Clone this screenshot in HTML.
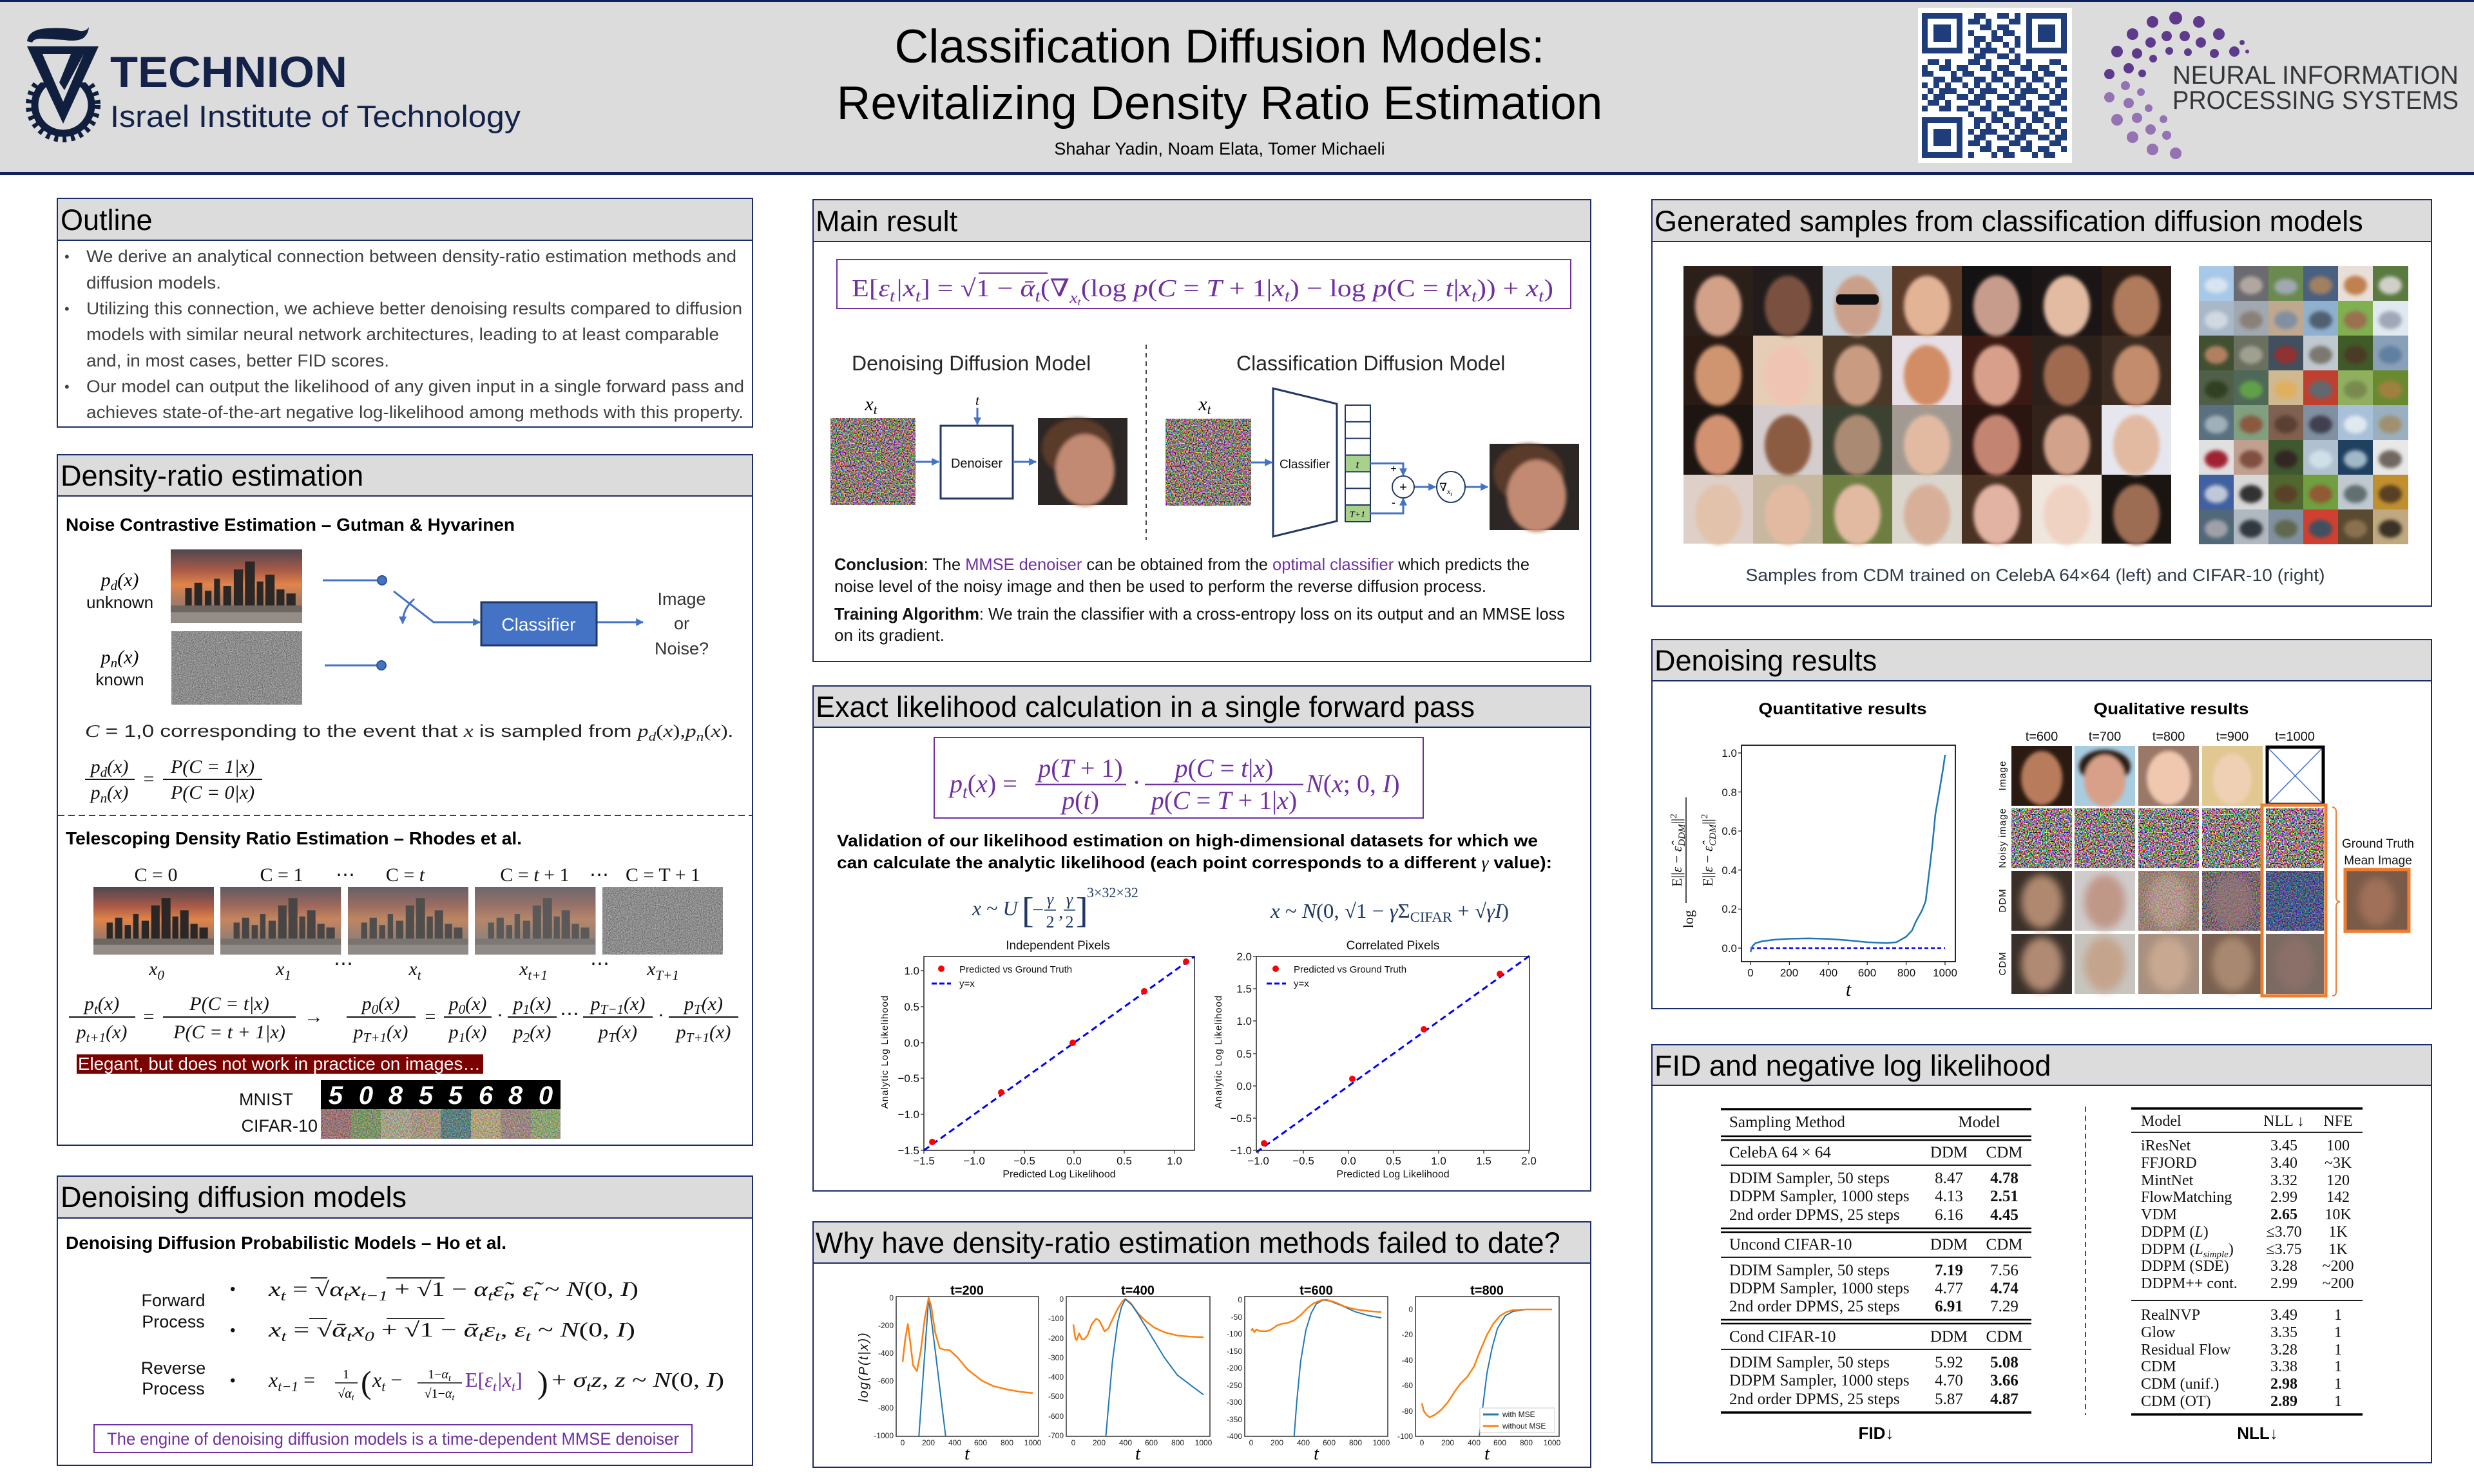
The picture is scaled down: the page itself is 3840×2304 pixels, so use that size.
<!DOCTYPE html>
<html><head><meta charset="utf-8"><style>
html,body{margin:0;padding:0;background:#fff}
body{width:3840px;height:2304px;overflow:hidden}
svg{display:block;font-family:"Liberation Sans",Arial,"DejaVu Sans",sans-serif}
.m{font-family:"Liberation Serif","DejaVu Serif",serif;font-style:italic}
.u{font-family:"Liberation Serif","DejaVu Serif",serif;font-style:normal}
.b{font-weight:bold}
</style></head><body>
<svg width="3840" height="2304" viewBox="0 0 3840 2304">
<defs>
<linearGradient id="sky" x1="0" y1="0" x2="0" y2="1">
<stop offset="0" stop-color="#4e4650"/><stop offset=".28" stop-color="#a85a48"/><stop offset=".48" stop-color="#e0844a"/><stop offset=".7" stop-color="#a87a62"/><stop offset="1" stop-color="#8a7a70"/>
</linearGradient>
<filter id="nz" x="0" y="0" width="100%" height="100%" color-interpolation-filters="sRGB"><feTurbulence type="fractalNoise" baseFrequency="0.5" numOctaves="1" seed="4"/><feComponentTransfer><feFuncR type="linear" slope="3.5" intercept="-1.2"/><feFuncG type="linear" slope="3.5" intercept="-1.25"/><feFuncB type="linear" slope="3.5" intercept="-1.25"/><feFuncA type="linear" slope="0" intercept="1"/></feComponentTransfer></filter>
<filter id="gz" x="0" y="0" width="100%" height="100%" color-interpolation-filters="sRGB"><feTurbulence type="fractalNoise" baseFrequency="0.7" numOctaves="1" seed="7"/><feColorMatrix type="saturate" values="0"/><feComponentTransfer><feFuncR type="linear" slope="0.9" intercept="0.1"/><feFuncG type="linear" slope="0.9" intercept="0.1"/><feFuncB type="linear" slope="0.9" intercept="0.1"/><feFuncA type="linear" slope="0" intercept="1"/></feComponentTransfer></filter>
<filter id="bl" x="-30%" y="-30%" width="160%" height="160%"><feGaussianBlur stdDeviation="3"/></filter>
<filter id="bl6" x="-30%" y="-30%" width="160%" height="160%"><feGaussianBlur stdDeviation="6"/></filter>
<marker id="ah" viewBox="0 0 10 10" refX="9" refY="5" markerWidth="4" markerHeight="4" orient="auto"><path d="M0 0L10 5L0 10z" fill="#4472c4"/></marker>
<pattern id="qr" patternUnits="userSpaceOnUse" x="2983" y="20" width="63" height="63"><path fill="#1f3d7a" d="M0 0h9v9h-9zM18 0h18v9h-18zM54 0h9v9h-9zM9 9h18v9h-18zM36 9h9v9h-9zM0 18h9v9h-9zM27 18h18v9h-18zM54 18h9v9h-9zM0 27h18v9h-18zM45 27h9v9h-9zM18 36h18v9h-18zM45 36h18v9h-18zM0 45h9v9h-9zM18 45h9v9h-9zM36 45h9v9h-9zM9 54h9v9h-9zM27 54h27v9h-27z"/></pattern>
<g id="city">
<rect width="200" height="110" fill="url(#sky)"/>
<g fill="#2b2726">
<rect x="22" y="58" width="10" height="40"/><rect x="36" y="50" width="12" height="50"/><rect x="52" y="62" width="10" height="40"/><rect x="66" y="44" width="9" height="56"/><rect x="80" y="55" width="12" height="45"/><rect x="96" y="30" width="14" height="70"/><rect x="113" y="18" width="15" height="82"/><rect x="131" y="48" width="10" height="52"/><rect x="144" y="38" width="14" height="62"/><rect x="161" y="60" width="12" height="40"/><rect x="176" y="66" width="14" height="34"/>
</g>
<rect y="84" width="200" height="26" fill="#6e6660"/>
<rect y="94" width="200" height="16" fill="#948c86"/>
</g>
<clipPath id="gearclip"><rect x="30" y="128" width="140" height="100"/></clipPath>
</defs>

<!-- HEADER -->
<rect x="0" y="0" width="3840" height="272" fill="#dcdcdc"/>
<rect x="0" y="0" width="3840" height="3" fill="#10225c"/>
<rect x="0" y="267" width="3840" height="5" fill="#10225c"/>
<g fill="#0f1f3d">
<path d="M42 64 Q44 46 72 44 Q104 42 124 48 Q134 49 138 42 Q137 54 128 60 Q116 65 100 62 L64 60 Q52 60 50 66 Z"/>
<path d="M42 72 L153 72 L98 192 Z M66 84 L130 84 L98 158 Z" fill-rule="evenodd"/>
<path d="M110 84 L130 84 L100 140 L92 128 Z"/>
<g clip-path="url(#gearclip)">
<circle cx="98" cy="163" r="44" fill="none" stroke="#0f1f3d" stroke-width="11"/>
<circle cx="98" cy="163" r="53" fill="none" stroke="#0f1f3d" stroke-width="10" stroke-dasharray="6 7"/>
</g>
</g>
<text x="171" y="135" font-size="68" font-weight="bold" fill="#14224a" textLength="368" lengthAdjust="spacingAndGlyphs">TECHNION</text>
<text x="171" y="197" font-size="47" fill="#14224a" textLength="637" lengthAdjust="spacingAndGlyphs">Israel Institute of Technology</text>
<text x="1893" y="97" font-size="73" text-anchor="middle" fill="#000">Classification Diffusion Models:</text>
<text x="1893" y="185" font-size="73" text-anchor="middle" fill="#000">Revitalizing Density Ratio Estimation</text>
<text x="1893" y="240" font-size="27" text-anchor="middle" fill="#000">Shahar Yadin, Noam Elata, Tomer Michaeli</text>
<!-- QR -->
<rect x="2977" y="12" width="239" height="241" fill="#fff"/>
<rect x="2983" y="20" width="225" height="225" fill="url(#qr)"/>
<g fill="#fff"><rect x="2983" y="20" width="72" height="72"/><rect x="3136" y="20" width="72" height="72"/><rect x="2983" y="173" width="72" height="72"/></g>
<g fill="#1f3d7a"><rect x="2983" y="20" width="63" height="63"/><rect x="3145" y="20" width="63" height="63"/><rect x="2983" y="182" width="63" height="63"/></g>
<g fill="#fff"><rect x="2992" y="29" width="45" height="45"/><rect x="3154" y="29" width="45" height="45"/><rect x="2992" y="191" width="45" height="45"/></g>
<g fill="#1f3d7a"><rect x="3001" y="38" width="27" height="27"/><rect x="3163" y="38" width="27" height="27"/><rect x="3001" y="200" width="27" height="27"/></g>
<!-- NeurIPS -->
<g fill="#5e3a8c">
<circle cx="3468" cy="80" r="8"/><circle cx="3444" cy="53" r="9"/><circle cx="3413" cy="34" r="9"/><circle cx="3377" cy="28" r="10"/><circle cx="3341" cy="34" r="9"/><circle cx="3310" cy="53" r="9"/><circle cx="3286" cy="80" r="9"/><circle cx="3274" cy="115" r="8"/>
<circle cx="3437" cy="83" r="7"/><circle cx="3416" cy="66" r="8"/><circle cx="3391" cy="56" r="8"/><circle cx="3363" cy="56" r="8"/><circle cx="3338" cy="66" r="8"/><circle cx="3317" cy="83" r="8"/><circle cx="3304" cy="106" r="8"/>
<circle cx="3396" cy="81" r="6"/><circle cx="3367" cy="79" r="6"/><circle cx="3342" cy="91" r="6"/><circle cx="3325" cy="114" r="6"/>
<circle cx="3488" cy="80" r="3"/><circle cx="3480" cy="66" r="4"/>
</g>
<g fill="#9572b3">
<circle cx="3274" cy="151" r="8"/><circle cx="3286" cy="186" r="9"/><circle cx="3310" cy="213" r="9"/><circle cx="3341" cy="232" r="9"/><circle cx="3377" cy="238" r="9"/>
<circle cx="3299" cy="133" r="7"/><circle cx="3304" cy="160" r="8"/><circle cx="3317" cy="183" r="8"/><circle cx="3338" cy="201" r="8"/><circle cx="3363" cy="210" r="7"/>
<circle cx="3323" cy="143" r="6"/><circle cx="3335" cy="168" r="6"/><circle cx="3358" cy="185" r="6"/>
</g>
<text x="3372" y="130" font-size="40" fill="#33363b" textLength="444" lengthAdjust="spacingAndGlyphs">NEURAL INFORMATION</text>
<text x="3372" y="169" font-size="40" fill="#33363b" textLength="444" lengthAdjust="spacingAndGlyphs">PROCESSING SYSTEMS</text>

<!-- SECTION BOXES -->
<g fill="#fff" stroke="#1c2c6a" stroke-width="2">
<rect x="89" y="308" width="1079" height="355"/>
<rect x="89" y="706" width="1079" height="1072"/>
<rect x="89" y="1826" width="1079" height="449"/>
<rect x="1262" y="310" width="1207" height="717"/>
<rect x="1262" y="1065" width="1207" height="784"/>
<rect x="1262" y="1897" width="1207" height="381"/>
<rect x="2564" y="310" width="1210" height="631"/>
<rect x="2564" y="993" width="1210" height="573"/>
<rect x="2564" y="1622" width="1210" height="649"/>
</g>
<g fill="#dcdcdc" stroke="#1c2c6a" stroke-width="2">
<rect x="89" y="308" width="1079" height="65"/>
<rect x="89" y="706" width="1079" height="64"/>
<rect x="89" y="1826" width="1079" height="65"/>
<rect x="1262" y="310" width="1207" height="65"/>
<rect x="1262" y="1065" width="1207" height="64"/>
<rect x="1262" y="1897" width="1207" height="64"/>
<rect x="2564" y="310" width="1210" height="65"/>
<rect x="2564" y="993" width="1210" height="64"/>
<rect x="2564" y="1622" width="1210" height="63"/>
</g>
<g font-size="45" fill="#000">
<text x="94" y="357">Outline</text>
<text x="94" y="754">Density-ratio estimation</text>
<text x="94" y="1874">Denoising diffusion models</text>
<text x="1266" y="359">Main result</text>
<text x="1266" y="1113">Exact likelihood calculation in a single forward pass</text>
<text x="1266" y="1945">Why have density-ratio estimation methods failed to date?</text>
<text x="2568" y="359">Generated samples from classification diffusion models</text>
<text x="2568" y="1041">Denoising results</text>
<text x="2568" y="1670">FID and negative log likelihood</text>
</g>

<!-- OUTLINE -->
<g font-size="27" fill="#404040">
<text x="100" y="406" font-size="22">•</text><text x="100" y="487" font-size="22">•</text><text x="100" y="608" font-size="22">•</text>
<text x="134" y="407" textLength="1009" lengthAdjust="spacingAndGlyphs">We derive an analytical connection between density-ratio estimation methods and</text>
<text x="134" y="448" textLength="209" lengthAdjust="spacingAndGlyphs">diffusion models.</text>
<text x="134" y="488" textLength="1018" lengthAdjust="spacingAndGlyphs">Utilizing this connection, we achieve better denoising results compared to diffusion</text>
<text x="134" y="528" textLength="982" lengthAdjust="spacingAndGlyphs">models with similar neural network architectures, leading to at least comparable</text>
<text x="134" y="569" textLength="470" lengthAdjust="spacingAndGlyphs">and, in most cases, better FID scores.</text>
<text x="134" y="609" textLength="1021" lengthAdjust="spacingAndGlyphs">Our model can output the likelihood of any given input in a single forward pass and</text>
<text x="134" y="649" textLength="1020" lengthAdjust="spacingAndGlyphs">achieves state-of-the-art negative log-likelihood among methods with this property.</text>
</g>

<!-- DENSITY RATIO -->
<text x="102" y="824" font-size="28" font-weight="bold" fill="#000" textLength="697" lengthAdjust="spacingAndGlyphs">Noise Contrastive Estimation – Gutman &amp; Hyvarinen</text>
<use href="#city" transform="translate(265,853) scale(1.02,1.036)"/>
<rect x="266" y="980" width="203" height="114" filter="url(#gz)"/>
<text class="m" x="186" y="910" font-size="30" text-anchor="middle">p<tspan dy="6" font-size="21">d</tspan><tspan dy="-6">(x)</tspan></text>
<text x="186" y="944" font-size="26" text-anchor="middle" fill="#111">unknown</text>
<text class="m" x="186" y="1030" font-size="30" text-anchor="middle">p<tspan dy="6" font-size="21">n</tspan><tspan dy="-6">(x)</tspan></text>
<text x="186" y="1064" font-size="26" text-anchor="middle" fill="#111">known</text>
<g stroke="#4472c4" stroke-width="3" fill="none">
<line x1="501" y1="901" x2="588" y2="901"/><line x1="504" y1="1033" x2="587" y2="1033"/>
<polyline points="611,918 673,966 745,966" marker-end="url(#ah)"/>
<path d="M643 930 Q625 945 625 968" marker-end="url(#ah)"/>
<line x1="926" y1="966" x2="998" y2="966" marker-end="url(#ah)"/>
</g>
<circle cx="593" cy="901" r="7" fill="#4472c4" stroke="#2f528f" stroke-width="2"/>
<circle cx="592" cy="1033" r="7" fill="#4472c4" stroke="#2f528f" stroke-width="2"/>
<rect x="747" y="935" width="179" height="67" fill="#4472c4" stroke="#203864" stroke-width="3"/>
<text x="836" y="979" font-size="28" text-anchor="middle" fill="#fff">Classifier</text>
<g font-size="27" fill="#333" text-anchor="middle"><text x="1058" y="939">Image</text><text x="1058" y="977">or</text><text x="1058" y="1016">Noise?</text></g>
<text x="132" y="1144" font-size="27" fill="#222" textLength="1006" lengthAdjust="spacingAndGlyphs"><tspan class="m">C</tspan> = 1,0 corresponding to the event that <tspan class="m">x</tspan> is sampled from <tspan class="m">p</tspan><tspan class="m" dy="6" font-size="19">d</tspan><tspan class="u" dy="-6">(</tspan><tspan class="m">x</tspan><tspan class="u">),</tspan><tspan class="m">p</tspan><tspan class="m" dy="6" font-size="19">n</tspan><tspan class="u" dy="-6">(</tspan><tspan class="m">x</tspan><tspan class="u">).</tspan></text>
<g class="m" font-size="30" text-anchor="middle" fill="#111">
<text x="170" y="1200">p<tspan dy="6" font-size="21">d</tspan><tspan dy="-6">(x)</tspan></text>
<text x="170" y="1240">p<tspan dy="6" font-size="21">n</tspan><tspan dy="-6">(x)</tspan></text>
<text x="330" y="1200">P(C = 1|x)</text>
<text x="330" y="1240">P(C = 0|x)</text>
<text class="u" x="231" y="1219">=</text>
</g>
<g stroke="#111" stroke-width="2"><line x1="132" y1="1210" x2="209" y2="1210"/><line x1="253" y1="1210" x2="407" y2="1210"/></g>
<line x1="90" y1="1266" x2="1167" y2="1266" stroke="#1f3f8f" stroke-width="2" stroke-dasharray="10 6"/>
<text x="102" y="1311" font-size="28" font-weight="bold" fill="#000" textLength="708" lengthAdjust="spacingAndGlyphs">Telescoping Density Ratio Estimation – Rhodes et al.</text>
<g class="u" font-size="30" text-anchor="middle" fill="#111">
<text x="242" y="1368">C = 0</text><text x="437" y="1368">C = 1</text><text x="536" y="1368">⋯</text>
<text x="629" y="1368">C = <tspan class="m">t</tspan></text><text x="830" y="1368">C = <tspan class="m">t</tspan> + 1</text><text x="930" y="1368">⋯</text><text x="1029" y="1368">C = T + 1</text>
</g>
<use href="#city" transform="translate(145,1377) scale(0.935,0.955)"/>
<use href="#city" transform="translate(342,1377) scale(0.935,0.955)"/>
<use href="#city" transform="translate(540,1377) scale(0.935,0.955)"/>
<use href="#city" transform="translate(737,1377) scale(0.935,0.955)"/>
<rect x="342" y="1377" width="188" height="105" fill="#8a8a8a" opacity=".3"/>
<rect x="540" y="1377" width="187" height="105" fill="#8a8a8a" opacity=".4"/>
<rect x="737" y="1377" width="188" height="105" fill="#8a8a8a" opacity=".5"/>
<rect x="935" y="1377" width="187" height="105" filter="url(#gz)"/>
<g class="m" font-size="30" text-anchor="middle" fill="#111">
<text x="243" y="1514">x<tspan dy="7" font-size="21">0</tspan></text>
<text x="440" y="1514">x<tspan dy="7" font-size="21">1</tspan></text>
<text class="u" x="533" y="1506">⋯</text>
<text x="644" y="1514">x<tspan dy="7" font-size="21">t</tspan></text>
<text x="828" y="1514">x<tspan dy="7" font-size="21">t+1</tspan></text>
<text class="u" x="931" y="1506">⋯</text>
<text x="1029" y="1514">x<tspan dy="7" font-size="21">T+1</tspan></text>
</g>
<g class="m" font-size="30" text-anchor="middle" fill="#111">
<text x="158" y="1568">p<tspan dy="6" font-size="21">t</tspan><tspan dy="-6">(x)</tspan></text>
<text x="158" y="1612">p<tspan dy="6" font-size="21">t+1</tspan><tspan dy="-6">(x)</tspan></text>
<text class="u" x="231" y="1588">=</text>
<text x="356" y="1568">P(C = t|x)</text>
<text x="356" y="1612">P(C = t + 1|x)</text>
<text class="u" x="487" y="1588">→</text>
<text x="591" y="1568">p<tspan dy="6" font-size="21">0</tspan><tspan dy="-6">(x)</tspan></text>
<text x="591" y="1612">p<tspan dy="6" font-size="21">T+1</tspan><tspan dy="-6">(x)</tspan></text>
<text class="u" x="668" y="1588">=</text>
<text x="726" y="1568">p<tspan dy="6" font-size="21">0</tspan><tspan dy="-6">(x)</tspan></text>
<text x="726" y="1612">p<tspan dy="6" font-size="21">1</tspan><tspan dy="-6">(x)</tspan></text>
<text class="u" x="776" y="1586">·</text>
<text x="826" y="1568">p<tspan dy="6" font-size="21">1</tspan><tspan dy="-6">(x)</tspan></text>
<text x="826" y="1612">p<tspan dy="6" font-size="21">2</tspan><tspan dy="-6">(x)</tspan></text>
<text class="u" x="884" y="1584">⋯</text>
<text x="959" y="1568">p<tspan dy="6" font-size="21">T−1</tspan><tspan dy="-6">(x)</tspan></text>
<text x="959" y="1612">p<tspan dy="6" font-size="21">T</tspan><tspan dy="-6">(x)</tspan></text>
<text class="u" x="1026" y="1586">·</text>
<text x="1092" y="1568">p<tspan dy="6" font-size="21">T</tspan><tspan dy="-6">(x)</tspan></text>
<text x="1092" y="1612">p<tspan dy="6" font-size="21">T+1</tspan><tspan dy="-6">(x)</tspan></text>
</g>
<g stroke="#111" stroke-width="2">
<line x1="107" y1="1579" x2="210" y2="1579"/><line x1="253" y1="1579" x2="459" y2="1579"/><line x1="538" y1="1579" x2="645" y2="1579"/><line x1="689" y1="1579" x2="763" y2="1579"/><line x1="788" y1="1579" x2="864" y2="1579"/><line x1="905" y1="1579" x2="1013" y2="1579"/><line x1="1038" y1="1579" x2="1146" y2="1579"/>
</g>
<rect x="119" y="1637" width="631" height="30" fill="#7b0000"/>
<text x="121" y="1661" font-size="28" fill="#fff" textLength="625" lengthAdjust="spacingAndGlyphs">Elegant, but does not work in practice on images…</text>
<text x="455" y="1716" font-size="27" text-anchor="end" fill="#111">MNIST</text>
<text x="493" y="1757" font-size="27" text-anchor="end" fill="#111">CIFAR-10</text>
<rect x="498" y="1677" width="372" height="45" fill="#000"/>
<g font-size="40" font-weight="bold" font-style="italic" fill="#fff" text-anchor="middle">
<text x="521" y="1714">5</text><text x="568" y="1714">0</text><text x="614" y="1714">8</text><text x="661" y="1714">5</text><text x="707" y="1714">5</text><text x="754" y="1714">6</text><text x="800" y="1714">8</text><text x="847" y="1714">0</text>
</g>
<g>
<rect x="498" y="1722" width="47" height="46" fill="#a07070"/><rect x="545" y="1722" width="46" height="46" fill="#7a9a60"/><rect x="591" y="1722" width="47" height="46" fill="#b0b090"/><rect x="638" y="1722" width="46" height="46" fill="#b0a080"/><rect x="684" y="1722" width="47" height="46" fill="#4a8080"/><rect x="731" y="1722" width="46" height="46" fill="#c0b080"/><rect x="777" y="1722" width="47" height="46" fill="#a08a80"/><rect x="824" y="1722" width="46" height="46" fill="#90b070"/>
<rect x="498" y="1722" width="372" height="46" filter="url(#nz)" opacity=".3"/>
</g>

<!-- DDPM -->
<text x="102" y="1939" font-size="28" font-weight="bold" fill="#000" textLength="684" lengthAdjust="spacingAndGlyphs">Denoising Diffusion Probabilistic Models – Ho et al.</text>
<g font-size="27" text-anchor="middle" fill="#111"><text x="269" y="2028">Forward</text><text x="269" y="2061">Process</text><text x="269" y="2133">Reverse</text><text x="269" y="2165">Process</text></g>
<g font-size="24" fill="#111"><text x="357" y="2009">•</text><text x="357" y="2073">•</text><text x="357" y="2151">•</text></g>
<text class="m" x="417" y="2012" font-size="32" fill="#111" textLength="574" lengthAdjust="spacingAndGlyphs">x<tspan dy="7" font-size="22">t</tspan><tspan dy="-7" class="u"> = √</tspan>α<tspan dy="7" font-size="22">t</tspan><tspan dy="-7">x</tspan><tspan dy="7" font-size="22">t−1</tspan><tspan dy="-7" class="u"> + √1 − </tspan>α<tspan dy="7" font-size="22">t</tspan><tspan dy="-7">ε̃</tspan><tspan dy="7" font-size="22">t</tspan><tspan dy="-7" class="u">,     </tspan>ε̃<tspan dy="7" font-size="22">t</tspan><tspan dy="-7" class="u"> ~ </tspan>N<tspan class="u">(0, </tspan>I<tspan class="u">)</tspan></text>
<text class="m" x="417" y="2075" font-size="32" fill="#111" textLength="569" lengthAdjust="spacingAndGlyphs">x<tspan dy="7" font-size="22">t</tspan><tspan dy="-7" class="u"> = √</tspan>ᾱ<tspan dy="7" font-size="22">t</tspan><tspan dy="-7">x</tspan><tspan dy="7" font-size="22">0</tspan><tspan dy="-7" class="u">     + √1 − </tspan>ᾱ<tspan dy="7" font-size="22">t</tspan><tspan dy="-7">ε</tspan><tspan dy="7" font-size="22">t</tspan><tspan dy="-7" class="u">,     </tspan>ε<tspan dy="7" font-size="22">t</tspan><tspan dy="-7" class="u"> ~ </tspan>N<tspan class="u">(0, </tspan>I<tspan class="u">)</tspan></text>
<g stroke="#111" stroke-width="1.8"><line x1="482" y1="1984" x2="508" y2="1984"/><line x1="600" y1="1984" x2="690" y2="1984"/><line x1="480" y1="2047" x2="508" y2="2047"/><line x1="600" y1="2047" x2="690" y2="2047"/></g>
<text class="m" x="417" y="2153" font-size="32" fill="#111">x<tspan dy="7" font-size="22">t−1</tspan><tspan dy="-7" class="u"> =</tspan></text>
<text class="u" x="537" y="2140" font-size="20" text-anchor="middle">1</text>
<line x1="520" y1="2147" x2="555" y2="2147" stroke="#111" stroke-width="1.5"/>
<text class="m" x="537" y="2170" font-size="20" text-anchor="middle"><tspan class="u">√</tspan>α<tspan dy="4" font-size="14">t</tspan></text>
<text class="u" x="560" y="2163" font-size="50" fill="#111">(</text>
<text class="m" x="578" y="2153" font-size="32" fill="#111">x<tspan dy="7" font-size="22">t</tspan><tspan dy="-7" class="u"> −</tspan></text>
<text class="m" x="682" y="2140" font-size="20" text-anchor="middle"><tspan class="u">1−</tspan>α<tspan dy="4" font-size="14">t</tspan></text>
<line x1="648" y1="2147" x2="717" y2="2147" stroke="#111" stroke-width="1.5"/>
<text class="m" x="682" y="2170" font-size="20" text-anchor="middle"><tspan class="u">√1−</tspan>α<tspan dy="4" font-size="14">t</tspan></text>
<text class="m" x="722" y="2153" font-size="32" fill="#7030a0"><tspan class="u">E[</tspan>ε<tspan dy="7" font-size="22">t</tspan><tspan dy="-7">|x</tspan><tspan dy="7" font-size="22">t</tspan><tspan dy="-7" class="u">]</tspan></text>
<text class="u" x="834" y="2163" font-size="50" fill="#111">)</text>
<text class="m" x="856" y="2153" font-size="32" fill="#111" textLength="268" lengthAdjust="spacingAndGlyphs"><tspan class="u">+ </tspan>σ<tspan dy="7" font-size="22">t</tspan><tspan dy="-7">z</tspan><tspan class="u">,   </tspan>z<tspan class="u"> ~ </tspan>N<tspan class="u">(0, </tspan>I<tspan class="u">)</tspan></text>
<rect x="146" y="2212" width="928" height="43" fill="none" stroke="#7030a0" stroke-width="2"/>
<text x="166" y="2243" font-size="27" fill="#7030a0" textLength="888" lengthAdjust="spacingAndGlyphs">The engine of denoising diffusion models is a time-dependent MMSE denoiser</text>

<!-- MAIN RESULT -->
<rect x="1299" y="403" width="1139" height="76" fill="none" stroke="#7030a0" stroke-width="2"/>
<text class="m" x="1322" y="460" font-size="38" fill="#7030a0" textLength="1089" lengthAdjust="spacingAndGlyphs"><tspan class="u">E[</tspan>ε<tspan dy="8" font-size="26">t</tspan><tspan dy="-8">|x</tspan><tspan dy="8" font-size="26">t</tspan><tspan dy="-8" class="u">] = √1 − </tspan>ᾱ<tspan dy="8" font-size="26">t</tspan><tspan dy="-8" class="u">(∇</tspan><tspan dy="10" font-size="24">x</tspan><tspan dy="4" font-size="16">t</tspan><tspan dy="-14" class="u">(log </tspan>p<tspan class="u">(</tspan>C<tspan class="u"> = </tspan>T<tspan class="u"> + 1|</tspan>x<tspan dy="8" font-size="26">t</tspan><tspan dy="-8" class="u">) − log </tspan>p<tspan class="u">(C = </tspan>t<tspan class="u">|</tspan>x<tspan dy="8" font-size="26">t</tspan><tspan dy="-8" class="u">)) + </tspan>x<tspan dy="8" font-size="26">t</tspan><tspan dy="-8" class="u">)</tspan></text>
<line x1="1519" y1="424" x2="1626" y2="424" stroke="#7030a0" stroke-width="2"/>
<text x="1322" y="575" font-size="32" fill="#262626">Denoising Diffusion Model</text>
<text x="1919" y="575" font-size="32" fill="#262626">Classification Diffusion Model</text>
<line x1="1779" y1="535" x2="1779" y2="838" stroke="#444" stroke-width="2" stroke-dasharray="7 6"/>
<text class="m" x="1352" y="637" font-size="30" text-anchor="middle">x<tspan dy="6" font-size="21">t</tspan></text>
<text class="m" x="1870" y="637" font-size="30" text-anchor="middle">x<tspan dy="6" font-size="21">t</tspan></text>
<text class="m" x="1517" y="629" font-size="22" text-anchor="middle">t</text>
<rect x="1289" y="649" width="132" height="135" filter="url(#nz)"/>
<rect x="1289" y="649" width="132" height="135" fill="#8a6a50" opacity=".2"/>
<rect x="1809" y="650" width="133" height="135" filter="url(#nz)"/>
<rect x="1809" y="650" width="133" height="135" fill="#8a6a50" opacity=".2"/>
<rect x="1460" y="661" width="112" height="113" fill="#fff" stroke="#203864" stroke-width="3"/>
<text x="1516" y="726" font-size="20" text-anchor="middle" fill="#111">Denoiser</text>
<rect x="1611" y="649" width="139" height="135" fill="#2c2624"/>
<g filter="url(#bl)"><ellipse cx="1672" cy="695" rx="55" ry="46" fill="#5a3a2a"/><ellipse cx="1684" cy="730" rx="46" ry="56" fill="#c28a72"/></g>
<rect x="2312" y="689" width="139" height="134" fill="#2c2624"/>
<g filter="url(#bl)"><ellipse cx="2373" cy="735" rx="55" ry="46" fill="#5a3a2a"/><ellipse cx="2385" cy="770" rx="46" ry="56" fill="#c28a72"/></g>
<polygon points="1976,603 2075,627 2075,809 1976,833" fill="#fff" stroke="#203864" stroke-width="3"/>
<text x="2025" y="727" font-size="19" text-anchor="middle" fill="#111">Classifier</text>
<g stroke="#203864" stroke-width="2">
<rect x="2088" y="629" width="39" height="25.9" fill="#fff"/><rect x="2088" y="654.9" width="39" height="25.9" fill="#fff"/><rect x="2088" y="680.7" width="39" height="25.9" fill="#fff"/><rect x="2088" y="706.6" width="39" height="25.9" fill="#a9d18e"/><rect x="2088" y="732.4" width="39" height="25.9" fill="#fff"/><rect x="2088" y="758.3" width="39" height="25.9" fill="#fff"/><rect x="2088" y="784.1" width="39" height="25.9" fill="#a9d18e"/>
</g>
<text class="m" x="2107" y="727" font-size="18" text-anchor="middle">t</text>
<text class="m" x="2107" y="803" font-size="14" text-anchor="middle">T+1</text>
<g stroke="#4472c4" stroke-width="3" fill="none">
<line x1="1421" y1="717" x2="1457" y2="717" marker-end="url(#ah)"/>
<line x1="1572" y1="717" x2="1608" y2="717" marker-end="url(#ah)"/>
<line x1="1517" y1="633" x2="1517" y2="659" marker-end="url(#ah)"/>
<line x1="1942" y1="718" x2="1974" y2="718" marker-end="url(#ah)"/>
<polyline points="2127,719.5 2178,719.5 2178,738" marker-end="url(#ah)"/>
<polyline points="2127,797 2178,797 2178,774" marker-end="url(#ah)"/>
<line x1="2195" y1="756" x2="2228" y2="756" marker-end="url(#ah)"/>
<line x1="2275" y1="756" x2="2309" y2="756" marker-end="url(#ah)"/>
</g>
<circle cx="2178" cy="756" r="17" fill="#fff" stroke="#203864" stroke-width="2"/>
<text x="2178" y="763" font-size="20" text-anchor="middle">+</text>
<text x="2163" y="733" font-size="16" text-anchor="middle">+</text>
<text x="2163" y="786" font-size="18" text-anchor="middle">-</text>
<ellipse cx="2252" cy="756" rx="22" ry="24" fill="#fff" stroke="#203864" stroke-width="2"/>
<text x="2244" y="762" font-size="17" text-anchor="middle" class="u">∇<tspan class="m" dy="5" font-size="12">x</tspan><tspan class="m" dy="3" font-size="9">t</tspan></text>
<g font-size="26" fill="#111">
<text x="1295" y="885" textLength="1079" lengthAdjust="spacingAndGlyphs"><tspan font-weight="bold">Conclusion</tspan>: The <tspan fill="#7030a0">MMSE denoiser</tspan> can be obtained from the <tspan fill="#7030a0">optimal classifier</tspan> which predicts the</text>
<text x="1295" y="919" textLength="1012" lengthAdjust="spacingAndGlyphs">noise level of the noisy image and then be used to perform the reverse diffusion process.</text>
<text x="1295" y="962" textLength="1134" lengthAdjust="spacingAndGlyphs"><tspan font-weight="bold">Training Algorithm</tspan>: We train the classifier with a cross-entropy loss on its output and an MMSE loss</text>
<text x="1295" y="995" textLength="171" lengthAdjust="spacingAndGlyphs">on its gradient.</text>
</g>

<!-- EXACT LIKELIHOOD -->
<rect x="1450" y="1145" width="759" height="125" fill="none" stroke="#7030a0" stroke-width="2"/>
<g class="m" font-size="40" fill="#7030a0">
<text x="1474" y="1230">p<tspan dy="9" font-size="28">t</tspan><tspan dy="-9" class="u">(</tspan>x<tspan class="u">) =</tspan></text>
<text x="1677" y="1206" text-anchor="middle">p<tspan class="u">(</tspan>T<tspan class="u"> + 1)</tspan></text>
<text x="1677" y="1256" text-anchor="middle">p<tspan class="u">(</tspan>t<tspan class="u">)</tspan></text>
<text class="u" x="1764" y="1228" text-anchor="middle">·</text>
<text x="1900" y="1206" text-anchor="middle">p<tspan class="u">(</tspan>C<tspan class="u"> = </tspan>t<tspan class="u">|</tspan>x<tspan class="u">)</tspan></text>
<text x="1900" y="1256" text-anchor="middle">p<tspan class="u">(</tspan>C<tspan class="u"> = </tspan>T<tspan class="u"> + 1|</tspan>x<tspan class="u">)</tspan></text>
<text x="2027" y="1230">N<tspan class="u">(</tspan>x<tspan class="u">; 0, </tspan>I<tspan class="u">)</tspan></text>
</g>
<g stroke="#7030a0" stroke-width="2.5"><line x1="1607" y1="1218" x2="1748" y2="1218"/><line x1="1777" y1="1218" x2="2023" y2="1218"/></g>
<g font-size="26" font-weight="bold" fill="#000">
<text x="1299" y="1314" textLength="1088" lengthAdjust="spacingAndGlyphs">Validation of our likelihood estimation on high-dimensional datasets for which we</text>
<text x="1299" y="1348" textLength="1110" lengthAdjust="spacingAndGlyphs">can calculate the analytic likelihood (each point corresponds to a different <tspan class="m" font-weight="normal">γ</tspan> value):</text>
</g>
<g class="m" fill="#1f3864">
<text x="1509" y="1421" font-size="32">x<tspan class="u"> ~ </tspan>U</text>
<text class="u" x="1586" y="1432" font-size="56">[</text>
<text class="u" x="1602" y="1423" font-size="32">−</text>
<text x="1630" y="1405" font-size="26" text-anchor="middle">γ</text><text class="u" x="1630" y="1440" font-size="26" text-anchor="middle">2</text>
<text class="u" x="1643" y="1425" font-size="30">,</text>
<text x="1660" y="1405" font-size="26" text-anchor="middle">γ</text><text class="u" x="1660" y="1440" font-size="26" text-anchor="middle">2</text>
<text class="u" x="1670" y="1432" font-size="56">]</text>
<text class="u" x="1687" y="1393" font-size="22">3×32×32</text>
<text x="1972" y="1425" font-size="32" textLength="370" lengthAdjust="spacingAndGlyphs">x<tspan class="u"> ~ </tspan>N<tspan class="u">(0, √1 − </tspan>γ<tspan class="u">Σ</tspan><tspan class="u" dy="6" font-size="22">CIFAR</tspan><tspan class="u" dy="-6"> + √</tspan>γ<tspan>I</tspan><tspan class="u">)</tspan></text>
</g>
<g stroke="#1f3864" stroke-width="1.5"><line x1="1621" y1="1413" x2="1639" y2="1413"/><line x1="1651" y1="1413" x2="1669" y2="1413"/></g>
<g font-size="19" text-anchor="middle" fill="#111"><text x="1642" y="1474">Independent Pixels</text><text x="2162" y="1474">Correlated Pixels</text></g>
<!-- left plot -->
<rect x="1434" y="1485" width="420" height="301" fill="none" stroke="#222" stroke-width="1.5"/>
<line x1="1434" y1="1786" x2="1854" y2="1485" stroke="#0000ff" stroke-width="3" stroke-dasharray="10 6"/>
<g fill="#ff0000"><circle cx="1447" cy="1773" r="5"/><circle cx="1554" cy="1696" r="5"/><circle cx="1665" cy="1619" r="5"/><circle cx="1776" cy="1539" r="5"/><circle cx="1841" cy="1493" r="5"/></g>
<circle cx="1461" cy="1504" r="5" fill="#ff0000"/>
<line x1="1446" y1="1527" x2="1476" y2="1527" stroke="#0000ff" stroke-width="3" stroke-dasharray="8 4"/>
<g font-size="15" fill="#111"><text x="1489" y="1510">Predicted vs Ground Truth</text><text x="1489" y="1532">y=x</text></g>
<g stroke="#222" stroke-width="1.2">
<line x1="1434" y1="1786" x2="1434" y2="1791"/><line x1="1512" y1="1786" x2="1512" y2="1791"/><line x1="1590" y1="1786" x2="1590" y2="1791"/><line x1="1667" y1="1786" x2="1667" y2="1791"/><line x1="1745" y1="1786" x2="1745" y2="1791"/><line x1="1823" y1="1786" x2="1823" y2="1791"/>
<line x1="1429" y1="1507" x2="1434" y2="1507"/><line x1="1429" y1="1563" x2="1434" y2="1563"/><line x1="1429" y1="1619" x2="1434" y2="1619"/><line x1="1429" y1="1674" x2="1434" y2="1674"/><line x1="1429" y1="1730" x2="1434" y2="1730"/><line x1="1429" y1="1786" x2="1434" y2="1786"/>
</g>
<g font-size="17" fill="#111" text-anchor="middle"><text x="1434" y="1808">−1.5</text><text x="1512" y="1808">−1.0</text><text x="1590" y="1808">−0.5</text><text x="1667" y="1808">0.0</text><text x="1745" y="1808">0.5</text><text x="1823" y="1808">1.0</text></g>
<g font-size="17" fill="#111" text-anchor="end"><text x="1427" y="1513">1.0</text><text x="1427" y="1569">0.5</text><text x="1427" y="1625">0.0</text><text x="1427" y="1680">−0.5</text><text x="1427" y="1736">−1.0</text><text x="1427" y="1792">−1.5</text></g>
<text x="1644" y="1828" font-size="16" text-anchor="middle" fill="#111">Predicted Log Likelihood</text>
<text transform="translate(1378,1633) rotate(-90)" font-size="15" text-anchor="middle" fill="#111" letter-spacing="1">Analytic Log Likelihood</text>
<!-- right plot -->
<rect x="1950" y="1485" width="424" height="301" fill="none" stroke="#222" stroke-width="1.5"/>
<line x1="1950" y1="1789" x2="2374" y2="1484" stroke="#0000ff" stroke-width="3" stroke-dasharray="10 6"/>
<g fill="#ff0000"><circle cx="1962" cy="1775" r="5"/><circle cx="2099" cy="1675" r="5"/><circle cx="2210" cy="1598" r="5"/><circle cx="2328" cy="1512" r="5"/></g>
<circle cx="1980" cy="1504" r="5" fill="#ff0000"/>
<line x1="1966" y1="1527" x2="1996" y2="1527" stroke="#0000ff" stroke-width="3" stroke-dasharray="8 4"/>
<g font-size="15" fill="#111"><text x="2008" y="1510">Predicted vs Ground Truth</text><text x="2008" y="1532">y=x</text></g>
<g stroke="#222" stroke-width="1.2">
<line x1="1953" y1="1786" x2="1953" y2="1791"/><line x1="2023" y1="1786" x2="2023" y2="1791"/><line x1="2093" y1="1786" x2="2093" y2="1791"/><line x1="2163" y1="1786" x2="2163" y2="1791"/><line x1="2233" y1="1786" x2="2233" y2="1791"/><line x1="2303" y1="1786" x2="2303" y2="1791"/><line x1="2373" y1="1786" x2="2373" y2="1791"/>
<line x1="1945" y1="1485" x2="1950" y2="1485"/><line x1="1945" y1="1535" x2="1950" y2="1535"/><line x1="1945" y1="1585" x2="1950" y2="1585"/><line x1="1945" y1="1636" x2="1950" y2="1636"/><line x1="1945" y1="1686" x2="1950" y2="1686"/><line x1="1945" y1="1736" x2="1950" y2="1736"/><line x1="1945" y1="1786" x2="1950" y2="1786"/>
</g>
<g font-size="17" fill="#111" text-anchor="middle"><text x="1953" y="1808">−1.0</text><text x="2023" y="1808">−0.5</text><text x="2093" y="1808">0.0</text><text x="2163" y="1808">0.5</text><text x="2233" y="1808">1.0</text><text x="2303" y="1808">1.5</text><text x="2373" y="1808">2.0</text></g>
<g font-size="17" fill="#111" text-anchor="end"><text x="1943" y="1491">2.0</text><text x="1943" y="1541">1.5</text><text x="1943" y="1591">1.0</text><text x="1943" y="1642">0.5</text><text x="1943" y="1692">0.0</text><text x="1943" y="1742">−0.5</text><text x="1943" y="1792">−1.0</text></g>
<text x="2162" y="1828" font-size="16" text-anchor="middle" fill="#111">Predicted Log Likelihood</text>
<text transform="translate(1896,1633) rotate(-90)" font-size="15" text-anchor="middle" fill="#111" letter-spacing="1">Analytic Log Likelihood</text>

<!-- WHY FAILED -->
<g font-size="20" font-weight="bold" text-anchor="middle" fill="#000"><text x="1501" y="2010">t=200</text><text x="1766" y="2010">t=400</text><text x="2043" y="2010">t=600</text><text x="2308" y="2010">t=800</text></g>
<g fill="none" stroke="#333" stroke-width="1.5">
<rect x="1391" y="2013" width="221" height="217"/><rect x="1655" y="2013" width="223" height="217"/><rect x="1932" y="2013" width="222" height="217"/><rect x="2197" y="2013" width="223" height="217"/>
</g>
<g fill="none" stroke-width="2.5" stroke-linejoin="round">
<polyline stroke="#1f77b4" stroke-width="2" points="1426.3,2229.3 1434,2120 1441.4,2015 1452,2100 1467.7,2229.3"/>
<polyline stroke="#ff7f0e" points="1401,2114.6 1405,2079.3 1409.1,2055.7 1413.1,2085.7 1417.2,2120 1423.2,2128.6 1429.3,2096.4 1435.3,2047.1 1441.4,2015 1445.4,2027.9 1451.5,2068.6 1458.6,2093.2 1465.6,2095.4 1473.7,2096 1485.8,2107.1 1502,2126.4 1524.2,2143.6 1542.4,2152.2 1564.6,2157.5 1582.8,2160.7 1603,2162.9"/>
<polyline stroke="#ff7f0e" points="1666,2056.4 1669,2077.6 1671.1,2080.6 1675.1,2070 1679.1,2079.1 1683.2,2079.1 1688.2,2073 1694.3,2056.4 1701.4,2047.3 1706.4,2050.3 1714.5,2067 1720.5,2062.4 1726.6,2048.8 1734.7,2032.1 1742.8,2019.4 1746.8,2017 1754.9,2023.1 1767,2039.7 1779.1,2051.8 1791.2,2060.9 1807.4,2068.5 1827.6,2073.6 1847.8,2075.2 1868,2076.1"/>
<polyline stroke="#1f77b4" stroke-width="2" points="1716.5,2229 1726.6,2113.9 1734.7,2053.3 1740.7,2029.1 1746.8,2017 1756.9,2026.1 1767,2041.2 1787.2,2074.6 1807.4,2107.9 1827.6,2135.1 1847.8,2150.3 1868,2165.4"/>
<polyline stroke="#1f77b4" stroke-width="2" points="2008.7,2230 2012.7,2177 2018.8,2113.4 2026.8,2065.7 2034.9,2039.2 2043,2024.4 2053.1,2018.5 2063.2,2019.6 2083.4,2027.5 2103.6,2036.6 2123.8,2042.4 2144,2046.1"/>
<polyline stroke="#ff7f0e" points="1942,2065.7 1944,2063 1947,2068.4 1950.1,2064.1 1956.1,2066.8 1966.2,2066.8 1972.3,2064.6 1982.4,2057.8 1990.5,2055.1 1998.6,2054 2008.7,2049.8 2018.8,2041.9 2028.9,2031.3 2039,2023.3 2051.1,2018.5 2059.2,2018 2073.3,2022.2 2087.4,2028.6 2103.6,2032.8 2123.8,2035.5 2144,2037.1"/>
<polyline stroke="#1f77b4" stroke-width="2" points="2295.9,2230 2301.9,2180.8 2308,2131.5 2316.1,2092.1 2324.2,2062.6 2336.3,2042.9 2348.4,2036 2368.6,2033 2409,2033"/>
<polyline stroke="#ff7f0e" points="2207,2178.8 2210,2190.6 2214.1,2196.5 2219.1,2200.5 2227.2,2196.5 2237.3,2188.6 2247.4,2176.8 2257.5,2161 2267.6,2147.3 2277.7,2137.4 2287.8,2121.7 2297.9,2096 2308,2072.4 2318.1,2054.7 2328.2,2042.9 2338.3,2036.9 2348.4,2034 2368.6,2033 2409,2033"/>
</g>
<rect x="2297" y="2186" width="116" height="38" fill="#fff" stroke="#ccc" stroke-width="1"/>
<line x1="2302" y1="2196" x2="2326" y2="2196" stroke="#1f77b4" stroke-width="3"/>
<line x1="2302" y1="2214" x2="2326" y2="2214" stroke="#ff7f0e" stroke-width="3"/>
<g font-size="12" fill="#111"><text x="2332" y="2200">with MSE</text><text x="2332" y="2218">without MSE</text></g>
<g font-size="12" fill="#222" text-anchor="end">
<text x="1387" y="2019">0</text><text x="1387" y="2062">-200</text><text x="1387" y="2105">-400</text><text x="1387" y="2148">-600</text><text x="1387" y="2190">-800</text><text x="1387" y="2233">-1000</text>
<text x="1651" y="2021">0</text><text x="1651" y="2051">-100</text><text x="1651" y="2082">-200</text><text x="1651" y="2112">-300</text><text x="1651" y="2142">-400</text><text x="1651" y="2172">-500</text><text x="1651" y="2203">-600</text><text x="1651" y="2233">-700</text>
<text x="1928" y="2022">0</text><text x="1928" y="2049">-50</text><text x="1928" y="2075">-100</text><text x="1928" y="2102">-150</text><text x="1928" y="2128">-200</text><text x="1928" y="2155">-250</text><text x="1928" y="2181">-300</text><text x="1928" y="2208">-350</text><text x="1928" y="2234">-400</text>
<text x="2193" y="2037">0</text><text x="2193" y="2076">-20</text><text x="2193" y="2116">-40</text><text x="2193" y="2155">-60</text><text x="2193" y="2195">-80</text><text x="2193" y="2234">-100</text>
</g>
<g font-size="12" fill="#222" text-anchor="middle">
<text x="1401" y="2244">0</text><text x="1441" y="2244">200</text><text x="1482" y="2244">400</text><text x="1522" y="2244">600</text><text x="1563" y="2244">800</text><text x="1603" y="2244">1000</text>
<text x="1666" y="2244">0</text><text x="1706" y="2244">200</text><text x="1747" y="2244">400</text><text x="1787" y="2244">600</text><text x="1828" y="2244">800</text><text x="1868" y="2244">1000</text>
<text x="1942" y="2244">0</text><text x="1982" y="2244">200</text><text x="2023" y="2244">400</text><text x="2063" y="2244">600</text><text x="2104" y="2244">800</text><text x="2144" y="2244">1000</text>
<text x="2207" y="2244">0</text><text x="2247" y="2244">200</text><text x="2288" y="2244">400</text><text x="2328" y="2244">600</text><text x="2369" y="2244">800</text><text x="2409" y="2244">1000</text>
</g>
<g class="m" font-size="28" text-anchor="middle"><text x="1501" y="2266">t</text><text x="1766" y="2266">t</text><text x="2043" y="2266">t</text><text x="2308" y="2266">t</text></g>
<text transform="translate(1347,2122) rotate(-90)" font-size="20" font-style="italic" text-anchor="middle" letter-spacing="2" fill="#111">log(P(t|x))</text>

<!-- GENERATED SAMPLES: faces -->
<g>
<rect x="2613" y="413" width="109" height="108" fill="#2b1f1a"/><rect x="2721" y="413" width="109" height="108" fill="#211c1b"/><rect x="2829" y="413" width="109" height="108" fill="#c9d3dc"/><rect x="2937" y="413" width="109" height="108" fill="#5b3b2a"/><rect x="3045" y="413" width="109" height="108" fill="#141212"/><rect x="3154" y="413" width="109" height="108" fill="#1b1515"/><rect x="3262" y="413" width="108" height="108" fill="#2b1d15"/>
<rect x="2613" y="521" width="109" height="108" fill="#2a1a14"/><rect x="2721" y="521" width="109" height="108" fill="#e6cdb6"/><rect x="2829" y="521" width="109" height="108" fill="#4a3828"/><rect x="2937" y="521" width="109" height="108" fill="#e6dfe6"/><rect x="3045" y="521" width="109" height="108" fill="#3a1a12"/><rect x="3154" y="521" width="109" height="108" fill="#2b201a"/><rect x="3262" y="521" width="108" height="108" fill="#3b2b21"/>
<rect x="2613" y="629" width="109" height="108" fill="#1d1511"/><rect x="2721" y="629" width="109" height="108" fill="#d5cdcd"/><rect x="2829" y="629" width="109" height="108" fill="#3c4232"/><rect x="2937" y="629" width="109" height="108" fill="#a29a92"/><rect x="3045" y="629" width="109" height="108" fill="#2b1511"/><rect x="3154" y="629" width="109" height="108" fill="#322219"/><rect x="3262" y="629" width="108" height="108" fill="#e6e6ee"/>
<rect x="2613" y="737" width="109" height="107" fill="#ded0c8"/><rect x="2721" y="737" width="109" height="107" fill="#c8b8a0"/><rect x="2829" y="737" width="109" height="107" fill="#6e7e42"/><rect x="2937" y="737" width="109" height="107" fill="#dad6ce"/><rect x="3045" y="737" width="109" height="107" fill="#4a3222"/><rect x="3154" y="737" width="109" height="107" fill="#efe6de"/><rect x="3262" y="737" width="108" height="107" fill="#1b1511"/>
</g>
<g filter="url(#bl)">
<ellipse cx="2667" cy="475" rx="36" ry="47" fill="#d3a088"/><ellipse cx="2775" cy="475" rx="36" ry="47" fill="#7a5140"/><ellipse cx="2883" cy="475" rx="36" ry="47" fill="#caa08a"/><ellipse cx="2991" cy="475" rx="36" ry="47" fill="#e2b394"/><ellipse cx="3099" cy="475" rx="36" ry="47" fill="#c79c8c"/><ellipse cx="3208" cy="475" rx="36" ry="47" fill="#e3bba3"/><ellipse cx="3316" cy="475" rx="36" ry="47" fill="#b07a5c"/>
<ellipse cx="2667" cy="583" rx="36" ry="47" fill="#cf9470"/><ellipse cx="2775" cy="583" rx="36" ry="47" fill="#f0c4b2"/><ellipse cx="2883" cy="583" rx="36" ry="47" fill="#c99c82"/><ellipse cx="2991" cy="583" rx="36" ry="47" fill="#d38d66"/><ellipse cx="3099" cy="583" rx="36" ry="47" fill="#d8a08a"/><ellipse cx="3208" cy="583" rx="36" ry="47" fill="#a06a50"/><ellipse cx="3316" cy="583" rx="36" ry="47" fill="#c38c6c"/>
<ellipse cx="2667" cy="691" rx="36" ry="47" fill="#d29272"/><ellipse cx="2775" cy="691" rx="36" ry="47" fill="#8c5c42"/><ellipse cx="2883" cy="691" rx="36" ry="47" fill="#aa8a72"/><ellipse cx="2991" cy="691" rx="36" ry="47" fill="#e2baa2"/><ellipse cx="3099" cy="691" rx="36" ry="47" fill="#c48472"/><ellipse cx="3208" cy="691" rx="36" ry="47" fill="#d2a28a"/><ellipse cx="3316" cy="691" rx="36" ry="47" fill="#e2baa2"/>
<ellipse cx="2667" cy="799" rx="36" ry="47" fill="#e2c2aa"/><ellipse cx="2775" cy="799" rx="36" ry="47" fill="#e2baa2"/><ellipse cx="2883" cy="799" rx="36" ry="47" fill="#e2baa2"/><ellipse cx="2991" cy="799" rx="36" ry="47" fill="#d8b09a"/><ellipse cx="3099" cy="799" rx="36" ry="47" fill="#e2b2a2"/><ellipse cx="3208" cy="799" rx="36" ry="47" fill="#f0d2c2"/><ellipse cx="3316" cy="799" rx="36" ry="47" fill="#9c6c52"/>
</g>
<rect x="2850" y="457" width="66" height="16" rx="6" fill="#111"/>
<!-- CIFAR grid -->
<g>
<rect x="3413" y="413" width="55" height="54" fill="#a8c8e8"/><rect x="3467" y="413" width="55" height="54" fill="#6a6a70"/><rect x="3521" y="413" width="55" height="54" fill="#6a8a50"/><rect x="3575" y="413" width="55" height="54" fill="#4a6080"/><rect x="3629" y="413" width="55" height="54" fill="#e8e0d8"/><rect x="3683" y="413" width="55" height="54" fill="#5a7a40"/>
<rect x="3413" y="467" width="55" height="54" fill="#a8b8c8"/><rect x="3467" y="467" width="55" height="54" fill="#a0a8b0"/><rect x="3521" y="467" width="55" height="54" fill="#c0a890"/><rect x="3575" y="467" width="55" height="54" fill="#90b0d0"/><rect x="3629" y="467" width="55" height="54" fill="#80b050"/><rect x="3683" y="467" width="55" height="54" fill="#e0e8f0"/>
<rect x="3413" y="521" width="55" height="54" fill="#405030"/><rect x="3467" y="521" width="55" height="54" fill="#6a7060"/><rect x="3521" y="521" width="55" height="54" fill="#405060"/><rect x="3575" y="521" width="55" height="54" fill="#c0c8d0"/><rect x="3629" y="521" width="55" height="54" fill="#405a28"/><rect x="3683" y="521" width="55" height="54" fill="#8aa0b8"/>
<rect x="3413" y="575" width="55" height="54" fill="#506048"/><rect x="3467" y="575" width="55" height="54" fill="#506858"/><rect x="3521" y="575" width="55" height="54" fill="#d0b890"/><rect x="3575" y="575" width="55" height="54" fill="#c04030"/><rect x="3629" y="575" width="55" height="54" fill="#90b060"/><rect x="3683" y="575" width="55" height="54" fill="#6a8a30"/>
<rect x="3413" y="629" width="55" height="54" fill="#5a7080"/><rect x="3467" y="629" width="55" height="54" fill="#80a080"/><rect x="3521" y="629" width="55" height="54" fill="#806050"/><rect x="3575" y="629" width="55" height="54" fill="#8090a0"/><rect x="3629" y="629" width="55" height="54" fill="#a8c0d8"/><rect x="3683" y="629" width="55" height="54" fill="#9ab0c0"/>
<rect x="3413" y="683" width="55" height="54" fill="#e0e0e0"/><rect x="3467" y="683" width="55" height="54" fill="#c0a090"/><rect x="3521" y="683" width="55" height="54" fill="#405830"/><rect x="3575" y="683" width="55" height="54" fill="#b0c0d0"/><rect x="3629" y="683" width="55" height="54" fill="#204060"/><rect x="3683" y="683" width="55" height="54" fill="#e8e8e8"/>
<rect x="3413" y="737" width="55" height="54" fill="#4060a0"/><rect x="3467" y="737" width="55" height="54" fill="#d8d8d8"/><rect x="3521" y="737" width="55" height="54" fill="#506830"/><rect x="3575" y="737" width="55" height="54" fill="#70a040"/><rect x="3629" y="737" width="55" height="54" fill="#c0c8d0"/><rect x="3683" y="737" width="55" height="54" fill="#c09030"/>
<rect x="3413" y="791" width="55" height="54" fill="#506878"/><rect x="3467" y="791" width="55" height="54" fill="#b0b8c0"/><rect x="3521" y="791" width="55" height="54" fill="#8090a0"/><rect x="3575" y="791" width="55" height="54" fill="#d04030"/><rect x="3629" y="791" width="55" height="54" fill="#5a4a30"/><rect x="3683" y="791" width="55" height="54" fill="#c0a880"/>
</g>
<g filter="url(#bl)">
<ellipse cx="3440" cy="443" rx="18" ry="12" fill="#d8e4f0"/><ellipse cx="3494" cy="443" rx="18" ry="14" fill="#b0a8a0"/><ellipse cx="3548" cy="445" rx="18" ry="12" fill="#a0a8b0"/><ellipse cx="3602" cy="443" rx="18" ry="14" fill="#a08060"/><ellipse cx="3656" cy="443" rx="18" ry="15" fill="#c08050"/><ellipse cx="3710" cy="443" rx="18" ry="14" fill="#d0d0c8"/>
<ellipse cx="3440" cy="497" rx="18" ry="14" fill="#d0d8e0"/><ellipse cx="3494" cy="497" rx="18" ry="14" fill="#8a8078"/><ellipse cx="3548" cy="497" rx="18" ry="14" fill="#8090a0"/><ellipse cx="3602" cy="497" rx="18" ry="14" fill="#506070"/><ellipse cx="3656" cy="497" rx="18" ry="14" fill="#9a7050"/><ellipse cx="3710" cy="497" rx="18" ry="14" fill="#a0a8b8"/>
<ellipse cx="3440" cy="551" rx="18" ry="14" fill="#b08060"/><ellipse cx="3494" cy="551" rx="18" ry="14" fill="#a0a090"/><ellipse cx="3548" cy="551" rx="18" ry="14" fill="#903030"/><ellipse cx="3602" cy="551" rx="18" ry="14" fill="#7a7870"/><ellipse cx="3656" cy="551" rx="18" ry="14" fill="#4a3a28"/><ellipse cx="3710" cy="551" rx="18" ry="14" fill="#6080a0"/>
<ellipse cx="3440" cy="605" rx="18" ry="14" fill="#304020"/><ellipse cx="3494" cy="605" rx="18" ry="14" fill="#60a048"/><ellipse cx="3548" cy="605" rx="18" ry="14" fill="#e0b060"/><ellipse cx="3602" cy="605" rx="18" ry="14" fill="#606870"/><ellipse cx="3656" cy="605" rx="18" ry="14" fill="#7a8a50"/><ellipse cx="3710" cy="605" rx="18" ry="14" fill="#a08040"/>
<ellipse cx="3440" cy="659" rx="18" ry="14" fill="#a0b0b8"/><ellipse cx="3494" cy="659" rx="18" ry="14" fill="#8a5a40"/><ellipse cx="3548" cy="659" rx="18" ry="14" fill="#5a4030"/><ellipse cx="3602" cy="659" rx="18" ry="14" fill="#404050"/><ellipse cx="3656" cy="659" rx="18" ry="14" fill="#e0e8f0"/><ellipse cx="3710" cy="659" rx="18" ry="14" fill="#a09070"/>
<ellipse cx="3440" cy="713" rx="18" ry="14" fill="#a02030"/><ellipse cx="3494" cy="713" rx="18" ry="14" fill="#805040"/><ellipse cx="3548" cy="713" rx="18" ry="14" fill="#302820"/><ellipse cx="3602" cy="713" rx="18" ry="14" fill="#d0e0e8"/><ellipse cx="3656" cy="713" rx="18" ry="14" fill="#a0b8c8"/><ellipse cx="3710" cy="713" rx="18" ry="14" fill="#706860"/>
<ellipse cx="3440" cy="767" rx="18" ry="14" fill="#c0c8d8"/><ellipse cx="3494" cy="767" rx="18" ry="14" fill="#303030"/><ellipse cx="3548" cy="767" rx="18" ry="14" fill="#5a4028"/><ellipse cx="3602" cy="767" rx="18" ry="14" fill="#905a30"/><ellipse cx="3656" cy="767" rx="18" ry="14" fill="#607070"/><ellipse cx="3710" cy="767" rx="18" ry="14" fill="#5a4020"/>
<ellipse cx="3440" cy="821" rx="18" ry="14" fill="#a0a0a8"/><ellipse cx="3494" cy="821" rx="18" ry="14" fill="#303840"/><ellipse cx="3548" cy="821" rx="18" ry="14" fill="#606850"/><ellipse cx="3602" cy="821" rx="18" ry="14" fill="#405060"/><ellipse cx="3656" cy="821" rx="18" ry="14" fill="#8a7050"/><ellipse cx="3710" cy="821" rx="18" ry="14" fill="#3a3028"/>
</g>
<text x="3159" y="902" font-size="27" text-anchor="middle" fill="#2e3a48" textLength="899" lengthAdjust="spacingAndGlyphs">Samples from CDM trained on CelebA 64×64 (left) and CIFAR-10 (right)</text>

<!-- DENOISING RESULTS -->
<g font-size="25" font-weight="bold" text-anchor="middle" fill="#000">
<text x="2860" y="1109" textLength="261" lengthAdjust="spacingAndGlyphs">Quantitative results</text>
<text x="3370" y="1109" textLength="241" lengthAdjust="spacingAndGlyphs">Qualitative results</text>
</g>
<rect x="2703" y="1157" width="332" height="336" fill="none" stroke="#111" stroke-width="1.8"/>
<line x1="2717" y1="1472" x2="3019" y2="1472" stroke="#0000ff" stroke-width="2.5" stroke-dasharray="6 4"/>
<polyline fill="none" stroke="#1f77b4" stroke-width="2.5" points="2717,1478.1 2720,1469 2724.6,1464.4 2735.1,1461.4 2753.2,1459 2777.4,1457.5 2807.6,1456.9 2837.8,1457.8 2868,1459.9 2898.2,1462.9 2928.4,1464.1 2943.5,1462.9 2958.6,1454.4 2967.7,1444.7 2973.7,1430.8 2982.8,1414.4 2988.8,1399.3 2994.8,1350.8 2999.4,1311.4 3003.9,1264.7 3009.9,1229.6 3016,1193.2 3019,1172"/>
<g stroke="#111" stroke-width="1.2">
<line x1="2698" y1="1472" x2="2703" y2="1472"/><line x1="2698" y1="1411.4" x2="2703" y2="1411.4"/><line x1="2698" y1="1350.8" x2="2703" y2="1350.8"/><line x1="2698" y1="1290.2" x2="2703" y2="1290.2"/><line x1="2698" y1="1229.6" x2="2703" y2="1229.6"/><line x1="2698" y1="1169" x2="2703" y2="1169"/>
<line x1="2717" y1="1493" x2="2717" y2="1498"/><line x1="2777.4" y1="1493" x2="2777.4" y2="1498"/><line x1="2837.8" y1="1493" x2="2837.8" y2="1498"/><line x1="2898.2" y1="1493" x2="2898.2" y2="1498"/><line x1="2958.6" y1="1493" x2="2958.6" y2="1498"/><line x1="3019" y1="1493" x2="3019" y2="1498"/>
</g>
<g font-size="17" fill="#111" text-anchor="end"><text x="2696" y="1478">0.0</text><text x="2696" y="1417">0.2</text><text x="2696" y="1357">0.4</text><text x="2696" y="1296">0.6</text><text x="2696" y="1236">0.8</text><text x="2696" y="1175">1.0</text></g>
<g font-size="17" fill="#111" text-anchor="middle"><text x="2717" y="1516">0</text><text x="2777" y="1516">200</text><text x="2838" y="1516">400</text><text x="2898" y="1516">600</text><text x="2959" y="1516">800</text><text x="3019" y="1516">1000</text></g>
<text class="m" x="2869" y="1546" font-size="30" text-anchor="middle">t</text>
<g transform="translate(2620,1320) rotate(-90)" fill="#111">
<text class="u" x="0" y="-10" font-size="22" text-anchor="middle"><tspan>E||</tspan><tspan class="m">ε</tspan> − <tspan class="m">ε̂</tspan><tspan class="m" dy="5" font-size="15">DDM</tspan><tspan dy="-5">||</tspan><tspan dy="-8" font-size="15">2</tspan></text>
<line x1="-82" y1="-3" x2="82" y2="-3" stroke="#111" stroke-width="1.5"/>
<text class="u" x="0" y="38" font-size="22" text-anchor="middle"><tspan>E||</tspan><tspan class="m">ε</tspan> − <tspan class="m">ε̂</tspan><tspan class="m" dy="5" font-size="15">CDM</tspan><tspan dy="-5">||</tspan><tspan dy="-8" font-size="15">2</tspan></text>
<text class="u" x="-107" y="8" font-size="22" text-anchor="middle">log</text>
</g>
<g font-size="20" text-anchor="middle" fill="#111"><text x="3169" y="1150">t=600</text><text x="3267" y="1150">t=700</text><text x="3366" y="1150">t=800</text><text x="3465" y="1150">t=900</text><text x="3562" y="1150">t=1000</text></g>
<g font-size="15" text-anchor="middle" fill="#111" letter-spacing="1">
<text transform="translate(3113,1204) rotate(-90)">Image</text>
<text transform="translate(3113,1301) rotate(-90)">Noisy image</text>
<text transform="translate(3113,1398) rotate(-90)">DDM</text>
<text transform="translate(3113,1496) rotate(-90)">CDM</text>
</g>
<!-- row1 images -->
<rect x="3122" y="1158" width="94" height="93" fill="#2a1a12"/><rect x="3220" y="1158" width="94" height="93" fill="#a8cce0"/><rect x="3319" y="1158" width="94" height="93" fill="#9a7868"/><rect x="3418" y="1158" width="94" height="93" fill="#e0c890"/>
<g filter="url(#bl)">
<ellipse cx="3169" cy="1208" rx="32" ry="42" fill="#b87c5c"/>
<ellipse cx="3267" cy="1190" rx="40" ry="26" fill="#2a1a14"/><ellipse cx="3267" cy="1212" rx="32" ry="40" fill="#d8a088"/>
<ellipse cx="3366" cy="1208" rx="34" ry="42" fill="#f0c8b0"/>
<ellipse cx="3465" cy="1210" rx="30" ry="40" fill="#f0d0b4"/>
</g>
<rect x="3519" y="1160" width="87" height="89" fill="#fff" stroke="#000" stroke-width="5"/>
<g stroke="#4472c4" stroke-width="1.5"><line x1="3522" y1="1163" x2="3603" y2="1246"/><line x1="3603" y1="1163" x2="3522" y2="1246"/></g>
<!-- row2 noise -->
<rect x="3122" y="1255" width="94" height="93" filter="url(#nz)"/><rect x="3220" y="1255" width="94" height="93" filter="url(#nz)"/><rect x="3319" y="1255" width="94" height="93" filter="url(#nz)"/><rect x="3418" y="1255" width="94" height="93" filter="url(#nz)"/><rect x="3517" y="1255" width="90" height="93" filter="url(#nz)"/>
<!-- row3 DDM -->
<rect x="3122" y="1352" width="94" height="93" fill="#3a3028"/><rect x="3220" y="1352" width="94" height="93" fill="#d0cccc"/><rect x="3319" y="1352" width="94" height="93" fill="#9a8070"/>
<rect x="3418" y="1352" width="94" height="93" filter="url(#nz)"/><rect x="3418" y="1352" width="94" height="93" fill="#6a5060" opacity=".55"/>
<rect x="3517" y="1352" width="90" height="93" filter="url(#nz)"/><rect x="3517" y="1352" width="90" height="93" fill="#1a3a8a" opacity=".55"/>
<!-- row4 CDM -->
<rect x="3122" y="1450" width="94" height="93" fill="#3a302a"/><rect x="3220" y="1450" width="94" height="93" fill="#c8c4be"/><rect x="3319" y="1450" width="94" height="93" fill="#a89080"/><rect x="3418" y="1450" width="94" height="93" fill="#7a6050"/><rect x="3517" y="1450" width="90" height="93" fill="#7a6a62"/>
<g filter="url(#bl6)">
<ellipse cx="3169" cy="1400" rx="32" ry="42" fill="#b08870"/><ellipse cx="3267" cy="1400" rx="32" ry="42" fill="#c09888"/><ellipse cx="3366" cy="1400" rx="32" ry="42" fill="#c0a090"/><ellipse cx="3465" cy="1400" rx="32" ry="42" fill="#9a7a7a" opacity=".6"/>
<ellipse cx="3169" cy="1497" rx="32" ry="42" fill="#b08a72"/><ellipse cx="3267" cy="1497" rx="32" ry="42" fill="#c4a48c"/><ellipse cx="3366" cy="1497" rx="32" ry="42" fill="#c8a890"/><ellipse cx="3465" cy="1497" rx="32" ry="42" fill="#a88870"/><ellipse cx="3562" cy="1497" rx="30" ry="42" fill="#8a7068"/>
</g>
<rect x="3319" y="1352" width="94" height="93" filter="url(#nz)" opacity=".25"/>
<rect x="3511" y="1250" width="99" height="296" fill="none" stroke="#ed7d31" stroke-width="5"/>
<path d="M3620 1253 Q3626 1254 3626 1260 L3626 1393 Q3626 1399 3632 1400 Q3626 1401 3626 1407 L3626 1540 Q3626 1546 3620 1546" fill="none" stroke="#ed7d31" stroke-width="2"/>
<g font-size="19" text-anchor="middle" fill="#111"><text x="3691" y="1316">Ground Truth</text><text x="3691" y="1342">Mean Image</text></g>
<rect x="3640" y="1350" width="99" height="96" fill="#7a5a48" stroke="#ed7d31" stroke-width="5"/>
<ellipse cx="3689" cy="1400" rx="28" ry="38" fill="#a07058" filter="url(#bl6)"/>

<!-- FID TABLE -->
<g stroke="#000">
<line x1="2671" y1="1722" x2="3153" y2="1722" stroke-width="3.5"/>
<line x1="2671" y1="1764" x2="3153" y2="1764" stroke-width="2.5"/><line x1="2671" y1="1770" x2="3153" y2="1770" stroke-width="2.5"/>
<line x1="2671" y1="1809" x2="3153" y2="1809" stroke-width="1.8"/>
<line x1="2671" y1="1907" x2="3153" y2="1907" stroke-width="2.5"/><line x1="2671" y1="1913" x2="3153" y2="1913" stroke-width="2.5"/>
<line x1="2671" y1="1952" x2="3153" y2="1952" stroke-width="1.8"/>
<line x1="2671" y1="2049" x2="3153" y2="2049" stroke-width="2.5"/><line x1="2671" y1="2055" x2="3153" y2="2055" stroke-width="2.5"/>
<line x1="2671" y1="2095" x2="3153" y2="2095" stroke-width="1.8"/>
<line x1="2671" y1="2193" x2="3153" y2="2193" stroke-width="3.5"/>
</g>
<g class="u" font-size="25" fill="#111">
<text x="2684" y="1750">Sampling Method</text><text x="3072" y="1750" text-anchor="middle">Model</text>
<text x="2684" y="1797">CelebA 64 × 64</text><text x="3025" y="1797" text-anchor="middle">DDM</text><text x="3111" y="1797" text-anchor="middle">CDM</text>
<text x="2684" y="1837">DDIM Sampler, 50 steps</text><text x="3025" y="1837" text-anchor="middle">8.47</text><text x="3111" y="1837" text-anchor="middle" font-weight="bold">4.78</text>
<text x="2684" y="1865">DDPM Sampler, 1000 steps</text><text x="3025" y="1865" text-anchor="middle">4.13</text><text x="3111" y="1865" text-anchor="middle" font-weight="bold">2.51</text>
<text x="2684" y="1894">2nd order DPMS, 25 steps</text><text x="3025" y="1894" text-anchor="middle">6.16</text><text x="3111" y="1894" text-anchor="middle" font-weight="bold">4.45</text>
<text x="2684" y="1940">Uncond CIFAR-10</text><text x="3025" y="1940" text-anchor="middle">DDM</text><text x="3111" y="1940" text-anchor="middle">CDM</text>
<text x="2684" y="1980">DDIM Sampler, 50 steps</text><text x="3025" y="1980" text-anchor="middle" font-weight="bold">7.19</text><text x="3111" y="1980" text-anchor="middle">7.56</text>
<text x="2684" y="2008">DDPM Sampler, 1000 steps</text><text x="3025" y="2008" text-anchor="middle">4.77</text><text x="3111" y="2008" text-anchor="middle" font-weight="bold">4.74</text>
<text x="2684" y="2036">2nd order DPMS, 25 steps</text><text x="3025" y="2036" text-anchor="middle" font-weight="bold">6.91</text><text x="3111" y="2036" text-anchor="middle">7.29</text>
<text x="2684" y="2083">Cond CIFAR-10</text><text x="3025" y="2083" text-anchor="middle">DDM</text><text x="3111" y="2083" text-anchor="middle">CDM</text>
<text x="2684" y="2123">DDIM Sampler, 50 steps</text><text x="3025" y="2123" text-anchor="middle">5.92</text><text x="3111" y="2123" text-anchor="middle" font-weight="bold">5.08</text>
<text x="2684" y="2151">DDPM Sampler, 1000 steps</text><text x="3025" y="2151" text-anchor="middle">4.70</text><text x="3111" y="2151" text-anchor="middle" font-weight="bold">3.66</text>
<text x="2684" y="2180">2nd order DPMS, 25 steps</text><text x="3025" y="2180" text-anchor="middle">5.87</text><text x="3111" y="2180" text-anchor="middle" font-weight="bold">4.87</text>
</g>
<line x1="3237" y1="1718" x2="3237" y2="2197" stroke="#111" stroke-width="1.5" stroke-dasharray="8 6"/>
<g stroke="#000">
<line x1="3308" y1="1721" x2="3667" y2="1721" stroke-width="3.5"/>
<line x1="3308" y1="1758" x2="3667" y2="1758" stroke-width="1.8"/>
<line x1="3308" y1="2019" x2="3667" y2="2019" stroke-width="1.8"/>
<line x1="3308" y1="2196" x2="3667" y2="2196" stroke-width="3.5"/>
</g>
<g class="u" font-size="24" fill="#111">
<text x="3323" y="1748">Model</text><text x="3545" y="1748" text-anchor="middle">NLL ↓</text><text x="3629" y="1748" text-anchor="middle">NFE</text>
<text x="3323" y="1786">iResNet</text><text x="3545" y="1786" text-anchor="middle">3.45</text><text x="3629" y="1786" text-anchor="middle">100</text>
<text x="3323" y="1813">FFJORD</text><text x="3545" y="1813" text-anchor="middle">3.40</text><text x="3629" y="1813" text-anchor="middle">~3K</text>
<text x="3323" y="1840">MintNet</text><text x="3545" y="1840" text-anchor="middle">3.32</text><text x="3629" y="1840" text-anchor="middle">120</text>
<text x="3323" y="1866">FlowMatching</text><text x="3545" y="1866" text-anchor="middle">2.99</text><text x="3629" y="1866" text-anchor="middle">142</text>
<text x="3323" y="1893">VDM</text><text x="3545" y="1893" text-anchor="middle" font-weight="bold">2.65</text><text x="3629" y="1893" text-anchor="middle">10K</text>
<text x="3323" y="1920">DDPM (<tspan class="m">L</tspan>)</text><text x="3545" y="1920" text-anchor="middle">≤3.70</text><text x="3629" y="1920" text-anchor="middle">1K</text>
<text x="3323" y="1947">DDPM (<tspan class="m">L</tspan><tspan class="m" dy="5" font-size="15">simple</tspan><tspan dy="-5">)</tspan></text><text x="3545" y="1947" text-anchor="middle">≤3.75</text><text x="3629" y="1947" text-anchor="middle">1K</text>
<text x="3323" y="1973">DDPM (SDE)</text><text x="3545" y="1973" text-anchor="middle">3.28</text><text x="3629" y="1973" text-anchor="middle">~200</text>
<text x="3323" y="2000">DDPM++ cont.</text><text x="3545" y="2000" text-anchor="middle">2.99</text><text x="3629" y="2000" text-anchor="middle">~200</text>
<text x="3323" y="2049">RealNVP</text><text x="3545" y="2049" text-anchor="middle">3.49</text><text x="3629" y="2049" text-anchor="middle">1</text>
<text x="3323" y="2076">Glow</text><text x="3545" y="2076" text-anchor="middle">3.35</text><text x="3629" y="2076" text-anchor="middle">1</text>
<text x="3323" y="2103">Residual Flow</text><text x="3545" y="2103" text-anchor="middle">3.28</text><text x="3629" y="2103" text-anchor="middle">1</text>
<text x="3323" y="2129">CDM</text><text x="3545" y="2129" text-anchor="middle">3.38</text><text x="3629" y="2129" text-anchor="middle">1</text>
<text x="3323" y="2156">CDM (unif.)</text><text x="3545" y="2156" text-anchor="middle" font-weight="bold">2.98</text><text x="3629" y="2156" text-anchor="middle">1</text>
<text x="3323" y="2183">CDM (OT)</text><text x="3545" y="2183" text-anchor="middle" font-weight="bold">2.89</text><text x="3629" y="2183" text-anchor="middle">1</text>
</g>
<g font-size="26" font-weight="bold" text-anchor="middle" fill="#000"><text x="2912" y="2234">FID↓</text><text x="3504" y="2234">NLL↓</text></g>
</svg>
</body></html>
